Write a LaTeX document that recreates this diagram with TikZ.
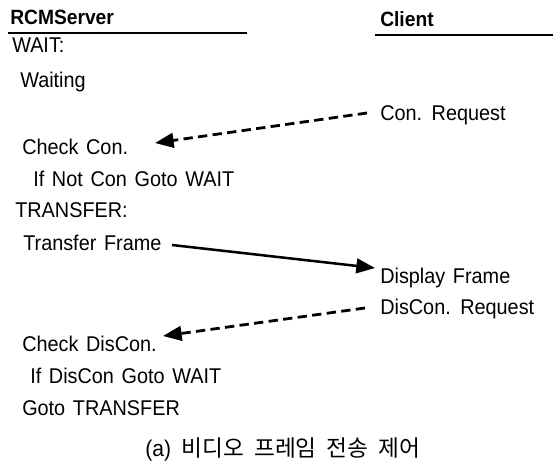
\documentclass[tikz,border=0pt]{standalone}
\usepackage{fontspec}
\setmainfont{Liberation Sans}[FakeStretch=0.93]
\newfontfamily\krfont{Noto Sans CJK KR}
\usetikzlibrary{arrows.meta,calc}
\newcommand\bodyfont{\fontsize{16}{19}\selectfont\spaceskip=0.36em plus 0.1em\relax}
\newcommand\capfont{\fontsize{17}{19}\selectfont\spaceskip=0.45em plus 0.1em\relax}
\begin{document}
\begin{tikzpicture}[x=0.75pt,y=-0.75pt,
  txt/.style={anchor=base west,inner sep=0pt,font=\bodyfont},
  head/.style={txt,font=\fontsize{15.5}{19}\selectfont\bfseries},
  rule/.style={line width=1.5pt},
  msg/.style={line width=1.9pt,-{Triangle[length=14pt,width=11pt]}},
  dmsg/.style={msg,line width=2.1pt,dash pattern=on 7pt off 4pt}]
\useasboundingbox (0,0) rectangle (556,466);

% column headers with their rules
\node[head] (srv) at (10,25) {RCMServer};
\node[head] (cli) at (380,27) {Client};
\coordinate (srvL) at (8,33);
\coordinate (srvR) at (247,33);
\coordinate (cliL) at (375,35);
\coordinate (cliR) at (553,35);
\draw[rule] (srvL) -- (srvR);
\draw[rule] (cliL) -- (cliR);

% server side
\node[txt] (wait)   at (12,53)  {WAIT:};
\node[txt] (waitng) at (20,88)  {Waiting};
\node[txt] (chk)    at (22,155) {Check Con.};
\node[txt] (ifnot)  at (33,187) {If Not Con Goto WAIT};
\node[txt] (trans)  at (15,218) {TRANSFER:};
\node[txt] (tfr)    at (23,251) {Transfer Frame};
\node[txt] (chkd)   at (22,351) {Check DisCon.};
\node[txt] (ifdis)  at (30,383) {If DisCon Goto WAIT};
\node[txt] (goto)   at (22,415) {Goto TRANSFER};

% client side
\node[txt] (conreq) at (380,121) {Con. Request};
\node[txt] (disp)   at (380,284) {Display Frame};
\node[txt] (disreq) at (380,314) {DisCon. Request};

% messages
\draw[dmsg] ($(conreq.base west)+(-13,-8)$) -- ($(chk.base west)+(133,-12)$);
\draw[msg]  ($(tfr.base west)+(149,-6)$) -- ($(disp.base west)+(-5,-16)$);
\draw[dmsg] ($(disreq.base west)+(-15,-6)$) -- ($(chkd.base west)+(141,-15)$);

% caption
\node[anchor=base,inner sep=0pt,font=\capfont] (cap) at (283,456)
  {(a) {\krfont\spaceskip=0.45em plus 0.1em\relax 비디오 프레임 전송 제어}};
\end{tikzpicture}
\end{document}
